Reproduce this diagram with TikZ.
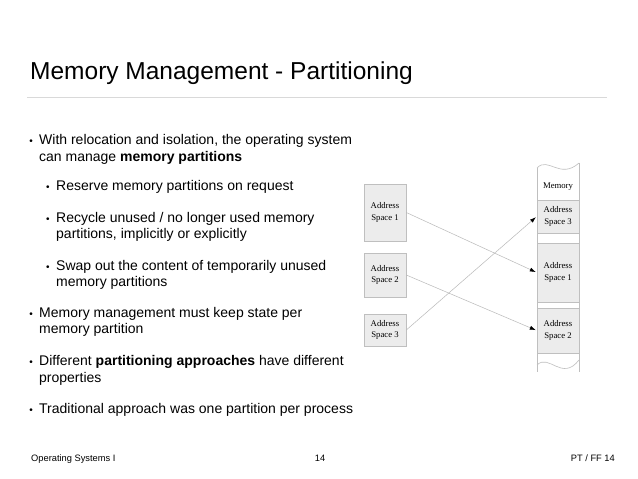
\documentclass[tikz,border=0pt]{standalone}
\usepackage{fontspec}
\setmainfont{Liberation Sans}
\newfontfamily\diagfont{Liberation Serif}
\usetikzlibrary{arrows.meta,positioning}

\begin{document}
\begin{tikzpicture}[x=1pt,y=-1pt,
    txt/.style={anchor=base west,inner sep=0pt,font=\fontsize{14}{17}\selectfont},
    dot/.style={anchor=base,inner sep=0pt,font=\fontsize{10}{12}\selectfont},
    foot/.style={inner sep=0pt,font=\fontsize{9.3}{11}\selectfont},
    addr/.style={draw=gray!50,fill=gray!15,line width=0.6pt,minimum width=42pt,inner sep=0pt,align=center,font=\diagfont\fontsize{8.7}{11.5}\selectfont},
    maparrow/.style={draw=gray!55,line width=0.5pt,-{Latex[black,length=6pt,width=4pt]},shorten >=1pt}]
    \fill[white] (0,0) rectangle (638,479);
    \useasboundingbox (0,0) rectangle (638,479);

    % title
    \node[anchor=base west,inner sep=0pt,font=\fontsize{24.5}{28}\selectfont] (title) at (30,79) {Memory Management - Partitioning};
    \draw[gray!30,line width=1pt] (27,97) -- (607,97);

    % bullets
    \node[dot] (b1) at (31,144) {\textbullet};
    \node[txt] (t1) at (39,144) {With relocation and isolation, the operating system};
    \node[txt] (t1b) at (39,161) {can manage \textbf{memory partitions}};
    \node[dot] (b2) at (48,190) {\textbullet};
    \node[txt] (t2) at (56,190) {Reserve memory partitions on request};
    \node[dot] (b3) at (48,222) {\textbullet};
    \node[txt] (t3) at (56,222) {Recycle unused / no longer used memory};
    \node[txt] (t3b) at (56,238) {partitions, implicitly or explicitly};
    \node[dot] (b4) at (48,270) {\textbullet};
    \node[txt] (t4) at (56,270) {Swap out the content of temporarily unused};
    \node[txt] (t4b) at (56,286) {memory partitions};
    \node[dot] (b5) at (31,317) {\textbullet};
    \node[txt] (t5) at (39,317) {Memory management must keep state per};
    \node[txt] (t5b) at (39,333) {memory partition};
    \node[dot] (b6) at (31,365) {\textbullet};
    \node[txt] (t6) at (39,365) {Different \textbf{partitioning approaches} have different};
    \node[txt] (t6b) at (39,382) {properties};
    \node[dot] (b7) at (31,413) {\textbullet};
    \node[txt] (t7) at (39,413) {Traditional approach was one partition per process};

    % address spaces
    \node[addr,minimum height=57pt] (as1) at (385,212.5) {Address\\Space 1};
    \node[addr,minimum height=44pt] (as2) at (385,275) {Address\\Space 2};
    \node[addr,minimum height=32pt] (as3) at (385,330) {Address\\Space 3};

    % memory column
    \draw[gray!50,line width=0.6pt] (537,168) .. controls (548,156) and (560,180) .. (579,163);
    \draw[gray!50,line width=0.6pt] (537,168) -- (537,372);
    \draw[gray!50,line width=0.6pt] (579,163) -- (579,372);
    \draw[gray!50,line width=0.6pt] (537,365) .. controls (549,353) and (562,382) .. (579,360);
    \node[font=\diagfont\fontsize{8.7}{11.5}\selectfont,inner sep=0pt] (mem) at (558,187) {Memory};
    \node[addr,minimum height=33pt] (m3) at (558,216.5) {Address\\Space 3};
    \node[addr,minimum height=59pt] (m1) at (558,272.5) {Address\\Space 1};
    \node[addr,minimum height=45pt] (m2) at (558,330.5) {Address\\Space 2};

    % mapping
    \draw[maparrow] (as1.east) -- (m1.west);
    \draw[maparrow] (as2.east) -- (m2.west);
    \draw[maparrow] (as3.east) -- (m3.west);

    % footer
    \node[foot,anchor=base west] (fl) at (31,461) {Operating Systems I};
    \node[foot,anchor=base] (fc) at (320,461) {14};
    \node[foot,anchor=base east] (fr) at (615,461) {PT / FF 14};
\end{tikzpicture}
\end{document}
